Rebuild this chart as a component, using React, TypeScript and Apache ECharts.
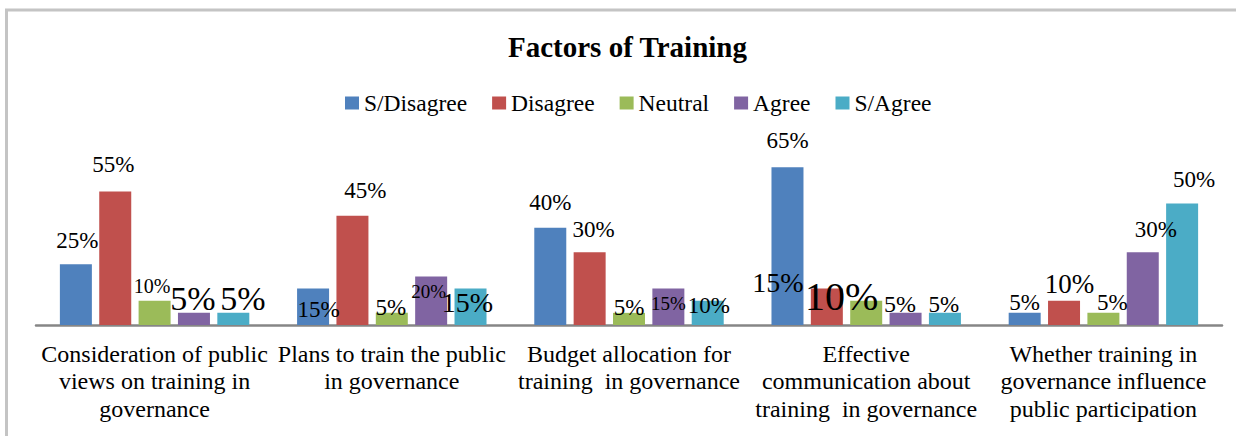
import React, { useEffect, useRef } from "react";
import * as echarts from "echarts";

const categories = [
  "Consideration of public\nviews on training in\ngovernance",
  "Plans to train the public\nin governance",
  "Budget allocation for\ntraining  in governance",
  "Effective\ncommunication about\ntraining  in governance",
  "Whether training in\ngovernance influence\npublic participation",
];

const seriesNames = ["S/Disagree", "Disagree", "Neutral", "Agree", "S/Agree"];

const sDisagree = [25, 15, 40, 65, 5];
const disagree = [55, 45, 30, 15, 10];
const neutral = [10, 5, 5, 10, 5];
const agree = [5, 20, 15, 5, 30];
const sAgree = [5, 15, 10, 5, 50];

const seriesValues = [sDisagree, disagree, neutral, agree, sAgree];
const colors = ["#4F81BD", "#C0504D", "#9BBB59", "#8064A2", "#4BACC6"];

// label placement tweaks [dx, dy, fontSize] per series / category
const labelTweaks: number[][][] = [
  [[1.5, -12.6, 23], [5.5, 32, 23], [0, -14, 23], [0, -15, 23], [0, 1, 23]],
  [[-2, -15, 23], [13, -14, 23], [4, -11, 23], [-49, 8, 28], [5.5, -3.4, 27]],
  [[-2.5, -4.5, 20], [-1, 6, 23], [0, 6, 23], [-24.5, 15.7, 40], [9, 1, 23]],
  [[-1, 2.6, 34], [-2.5, 24.6, 19], [0, 24.5, 19], [-5.5, 3, 24], [13, -11.4, 23]],
  [[9.5, 2.6, 34], [-3, 28, 28], [1, 16, 23], [-1, 3, 23], [12, -13, 23]],
];

const FONT = "Liberation Serif";

export default function App() {
  const ref = useRef<HTMLDivElement>(null);
  useEffect(() => {
    if (!ref.current) return;
    const chart = echarts.init(ref.current, undefined, { renderer: "svg" });
    const series = seriesNames.map((name, si) => ({
      name,
      type: "bar",
      barWidth: 32,
      barGap: "23%",
      itemStyle: { color: colors[si] },
      label: {
        show: true,
        position: "top",
        distance: 0,
        formatter: "{c}%",
        color: "#000",
        fontFamily: FONT,
      },
      data: seriesValues[si].map((v, ci) => {
        const [dx, dy, fs] = labelTweaks[si][ci];
        return {
          value: v,
          label: { offset: [dx, dy], fontSize: fs, lineHeight: fs, fontFamily: FONT },
        };
      }),
    }));
    chart.setOption({
      animation: false,
      backgroundColor: "#ffffff",
      textStyle: { fontFamily: FONT },
      title: {
        text: "Factors of Training",
        left: 503,
        top: 27,
        textStyle: {
          fontFamily: FONT,
          fontWeight: "bold",
          fontSize: 29,
          lineHeight: 29,
          color: "#000",
        },
      },
      legend: {
        data: seriesNames,
        left: 340,
        top: 86,
        itemWidth: 14,
        itemHeight: 13,
        itemGap: 25,
        icon: "rect",
        textStyle: {
          fontFamily: FONT,
          fontSize: 23.5,
          lineHeight: 24,
          color: "#000",
        },
      },
      grid: { left: 36, right: 14, top: 155, bottom: 111 },
      xAxis: {
        type: "category",
        data: categories,
        axisTick: { show: false },
        axisLine: { lineStyle: { color: "#868686", width: 2.5 } },
        axisLabel: {
          interval: 0,
          margin: 15,
          fontFamily: FONT,
          fontSize: 24,
          lineHeight: 27.5,
          color: "#000",
        },
      },
      yAxis: {
        type: "value",
        min: 0,
        max: 70,
        show: false,
        splitLine: { show: false },
      },
      graphic: [
        {
          type: "line",
          shape: { x1: 5, y1: 10, x2: 1236, y2: 10 },
          style: { stroke: "#c4c4c4", lineWidth: 3 },
        },
        {
          type: "line",
          shape: { x1: 6.5, y1: 9, x2: 6.5, y2: 436 },
          style: { stroke: "#c4c4c4", lineWidth: 3 },
        },
      ],
      series,
    });
    return () => chart.dispose();
  }, []);
  return (
    <div
      ref={ref}
      style={{ position: "absolute", left: 0, top: 0, width: 1236, height: 436 }}
    />
  );
}
